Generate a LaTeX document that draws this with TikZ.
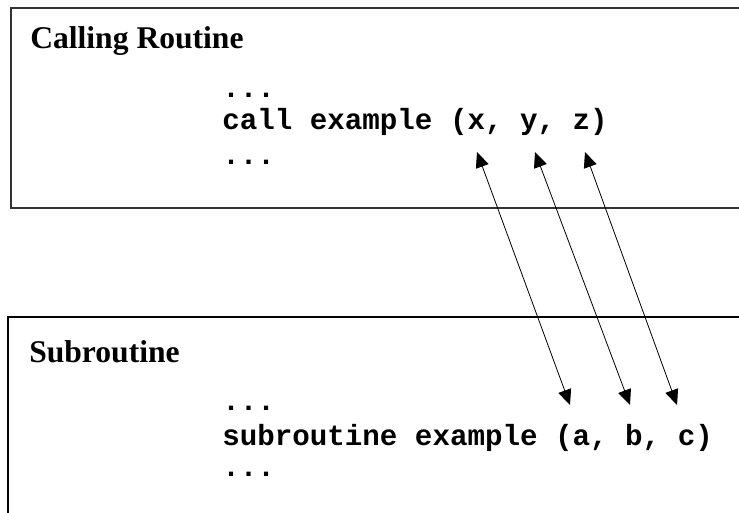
\documentclass[tikz,border=0pt]{standalone}
\usepackage{fontspec}
\setmainfont{Liberation Serif}
\setmonofont{Liberation Mono}
\usetikzlibrary{arrows.meta}
\begin{document}
\begin{tikzpicture}[x=0.75pt,y=-0.75pt,
  title/.style={anchor=base west,inner sep=0pt,font=\fontsize{23.7}{28}\selectfont\bfseries},
  code/.style={anchor=base west,inner sep=0pt,font=\fontsize{21.9}{26}\selectfont\ttfamily\bfseries},
  frame/.style={line width=0.9pt},
  link/.style={{Triangle[length=11.5pt,width=10pt]}-{Triangle[length=11.5pt,width=10pt]}, line width=0.6pt}]
\useasboundingbox (0,0) rectangle (739,512);
\clip (0,0) rectangle (739,512);
% boxes
\draw[frame, black!80] (760,8) -- (11,8) -- (11,208) -- (760,208);
\draw[frame, black] (760,317) -- (8,317) -- (8,530);
% calling routine
\node[title] (t1) at (30,48) {Calling Routine};
\node[code] (c1) at (222,97) {...};
\node[code] (c2) at (222,129) {call example (x, y, z)};
\node[code] (c3) at (222,164) {...};
% subroutine
\node[title] (t2) at (29,362) {Subroutine};
\node[code] (s1) at (222,410) {...};
\node[code] (s2) at (222,445) {subroutine example (a, b, c)};
\node[code] (s3) at (222,476) {...};
% arrow ends
\coordinate (px) at (477,152);
\coordinate (py) at (535,152);
\coordinate (pz) at (585,152);
\coordinate (pa) at (570,405);
\coordinate (pb) at (630,405);
\coordinate (pc) at (677,405);
\draw[link] (px) -- (pa);
\draw[link] (py) -- (pb);
\draw[link] (pz) -- (pc);
\end{tikzpicture}
\end{document}
